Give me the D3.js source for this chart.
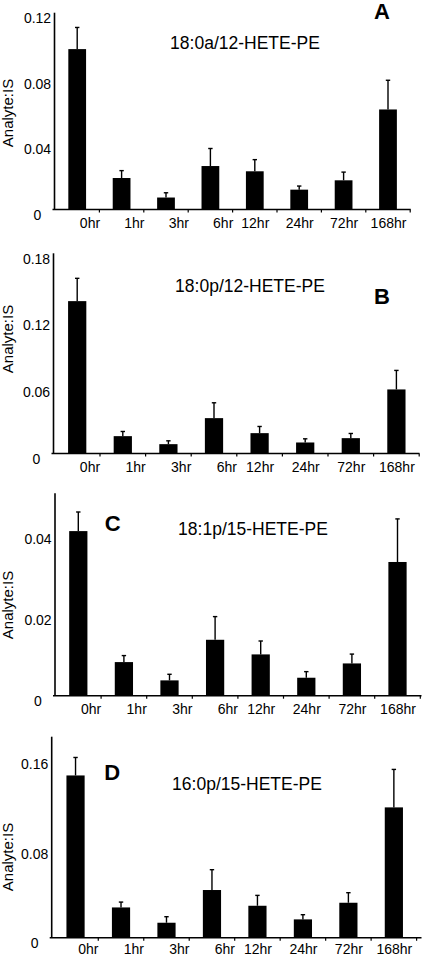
<!DOCTYPE html>
<html>
<head>
<meta charset="utf-8">
<script src="https://cdn.jsdelivr.net/npm/d3@7/dist/d3.min.js"></script>
<style>
  html, body { margin: 0; padding: 0; background: #fff; }
  svg { display: block; font-family: "Liberation Sans", Arial, sans-serif; }
</style>
</head>
<body>
<svg id="chart" width="422" height="956"></svg>
<script>
// ---- data ----
const categories = ["0hr", "1hr", "3hr", "6hr", "12hr", "24hr", "72hr", "168hr"];

const titles = ["18:0a/12-HETE-PE", "18:0p/12-HETE-PE", "18:1p/15-HETE-PE", "16:0p/15-HETE-PE"];
const letters = ["A", "B", "C", "D"];

const meanA = [0.0978, 0.0192, 0.0073, 0.0265, 0.0233, 0.0121, 0.0178, 0.0610];
const errA  = [0.0132, 0.0045, 0.0029, 0.0107, 0.0071, 0.0022, 0.0050, 0.0178];

const meanB = [0.1370, 0.0156, 0.0084, 0.0318, 0.0183, 0.0099, 0.0138, 0.0576];
const errB  = [0.0205, 0.0042, 0.0030, 0.0138, 0.0060, 0.0033, 0.0042, 0.0171];

const meanC = [0.0405, 0.00827, 0.00377, 0.01376, 0.01016, 0.00442, 0.00794, 0.0329];
const errC  = [0.0047, 0.0016, 0.0015, 0.0057, 0.0033, 0.0015, 0.0023, 0.0106];

const meanD = [0.1453, 0.0271, 0.0134, 0.0427, 0.0286, 0.0164, 0.0313, 0.1167];
const errD  = [0.0161, 0.0048, 0.0054, 0.0182, 0.0093, 0.0042, 0.0090, 0.0340];

const yMaxes = [0.12, 0.18, 0.0498, 0.18];
const ticksA = [0, 0.04, 0.08, 0.12];
const ticksB = [0, 0.06, 0.12, 0.18];
const ticksC = [0, 0.02, 0.04];
const ticksD = [0, 0.08, 0.16];

// ---- layout (positions only) ----
const layout = [
  { axisX: 54.5, top: 12.7, base: 209.5, x0: 55.0, x1: 410.2, lineEnd: 410.7,
    titleX: 245, titleY: 48.5, letX: 382, letY: 18.5, ylabY: 113, xlabOff: 13.5 },
  { axisX: 53.5, top: 253.3, base: 453.5, x0: 54.4, x1: 419.2, lineEnd: 419.5,
    titleX: 250, titleY: 292, letX: 382, letY: 303.5, ylabY: 339, xlabOff: 13.5 },
  { axisX: 55.0, top: 493.3, base: 695.7, x0: 55.5, x1: 420.3, lineEnd: 421.5,
    titleX: 253, titleY: 535, letX: 112.8, letY: 531, ylabY: 605, xlabOff: 13.5 },
  { axisX: 51.7, top: 736.7, base: 937.7, x0: 52.8, x1: 416.6, lineEnd: 421.5,
    titleX: 247, titleY: 790, letX: 112.3, letY: 780, ylabY: 857, xlabOff: 11.5 }
];

const panels = [
  { mean: meanA, err: errA, ticks: ticksA },
  { mean: meanB, err: errB, ticks: ticksB },
  { mean: meanC, err: errC, ticks: ticksC },
  { mean: meanD, err: errD, ticks: ticksD }
];

const shiftedLabels = new Set(["0hr", "1hr", "3hr", "6hr"]);

const svg = d3.select("#chart");

panels.forEach((p, i) => {
  const L = layout[i];
  const g = svg.append("g");

  const x = d3.scaleBand()
    .domain(categories)
    .range([L.x0, L.x1])
    .paddingInner(0.6)
    .paddingOuter(0.3);
  const y = d3.scaleLinear().domain([0, yMaxes[i]]).range([L.base, L.top]);

  const rows = categories.map((c, k) => ({ c, v: p.mean[k], e: p.err[k] }));

  // bars
  g.selectAll("rect.bar").data(rows).enter().append("rect")
    .attr("class", "bar")
    .attr("x", d => x(d.c))
    .attr("width", x.bandwidth())
    .attr("y", d => y(d.v))
    .attr("height", d => y(0) - y(d.v))
    .attr("fill", "#000");

  // error bars (upward only)
  const capHalf = 2.2;
  g.selectAll("line.err").data(rows).enter().append("line")
    .attr("x1", d => x(d.c) + x.bandwidth() / 2)
    .attr("x2", d => x(d.c) + x.bandwidth() / 2)
    .attr("y1", d => y(d.v))
    .attr("y2", d => y(d.v + d.e))
    .attr("stroke", "#000").attr("stroke-width", 1.4);
  g.selectAll("line.cap").data(rows).enter().append("line")
    .attr("x1", d => x(d.c) + x.bandwidth() / 2 - capHalf)
    .attr("x2", d => x(d.c) + x.bandwidth() / 2 + capHalf)
    .attr("y1", d => y(d.v + d.e))
    .attr("y2", d => y(d.v + d.e))
    .attr("stroke", "#000").attr("stroke-width", 1.4);

  // y axis (labels only, centred, no tick marks)
  const yAxis = d3.axisLeft(y)
    .tickValues(p.ticks)
    .tickSize(0)
    .tickFormat(v => v === 0 ? "0" : v.toFixed(2));
  const ya = g.append("g").attr("transform", `translate(${L.axisX},0)`).call(yAxis);
  ya.select(".domain").remove();
  ya.selectAll("text")
    .attr("x", -17)
    .attr("y", 5)
    .attr("dy", "0.35em")
    .attr("text-anchor", "middle")
    .attr("font-size", 14)
    .attr("font-family", "Liberation Sans, Arial, sans-serif")
    .attr("fill", "#000");

  // axis lines
  g.append("line")
    .attr("x1", L.axisX).attr("x2", L.axisX)
    .attr("y1", L.top).attr("y2", L.base)
    .attr("stroke", "#000").attr("stroke-width", 1.6);
  g.append("line")
    .attr("x1", L.axisX - 2).attr("x2", L.lineEnd)
    .attr("y1", L.base).attr("y2", L.base)
    .attr("stroke", "#000").attr("stroke-width", 1.6);

  // x category boundary ticks
  const step = x.step();
  const bounds = categories.map(c => x(c) + x.bandwidth() / 2 + step / 2);
  g.selectAll("line.xt").data(bounds).enter().append("line")
    .attr("x1", d => d).attr("x2", d => d)
    .attr("y1", L.base).attr("y2", L.base + 3)
    .attr("stroke", "#000").attr("stroke-width", 1.2);

  // x labels
  const xAxis = d3.axisBottom(x).tickSize(0).tickPadding(0);
  const xa = g.append("g").attr("transform", `translate(0,${L.base})`).call(xAxis);
  xa.select(".domain").remove();
  xa.selectAll("text")
    .attr("y", L.xlabOff)
    .attr("dy", "0.35em")
    .attr("dx", d => shiftedLabels.has(d) ? 12.8 : 0.5)
    .attr("font-size", 14)
    .attr("font-family", "Liberation Sans, Arial, sans-serif")
    .attr("fill", "#000");

  // y axis title
  g.append("text")
    .attr("transform", `translate(12.5,${L.ylabY}) rotate(-90)`)
    .attr("text-anchor", "middle")
    .attr("font-size", 15)
    .attr("fill", "#000")
    .text("Analyte:IS");

  // panel title
  g.append("text")
    .attr("x", L.titleX).attr("y", L.titleY)
    .attr("text-anchor", "middle")
    .attr("font-size", 17.5)
    .attr("fill", "#000")
    .text(titles[i]);

  // panel letter
  g.append("text")
    .attr("x", L.letX).attr("y", L.letY)
    .attr("text-anchor", "middle")
    .attr("font-size", 22)
    .attr("font-weight", "bold")
    .attr("fill", "#000")
    .text(letters[i]);
});
</script>
</body>
</html>
